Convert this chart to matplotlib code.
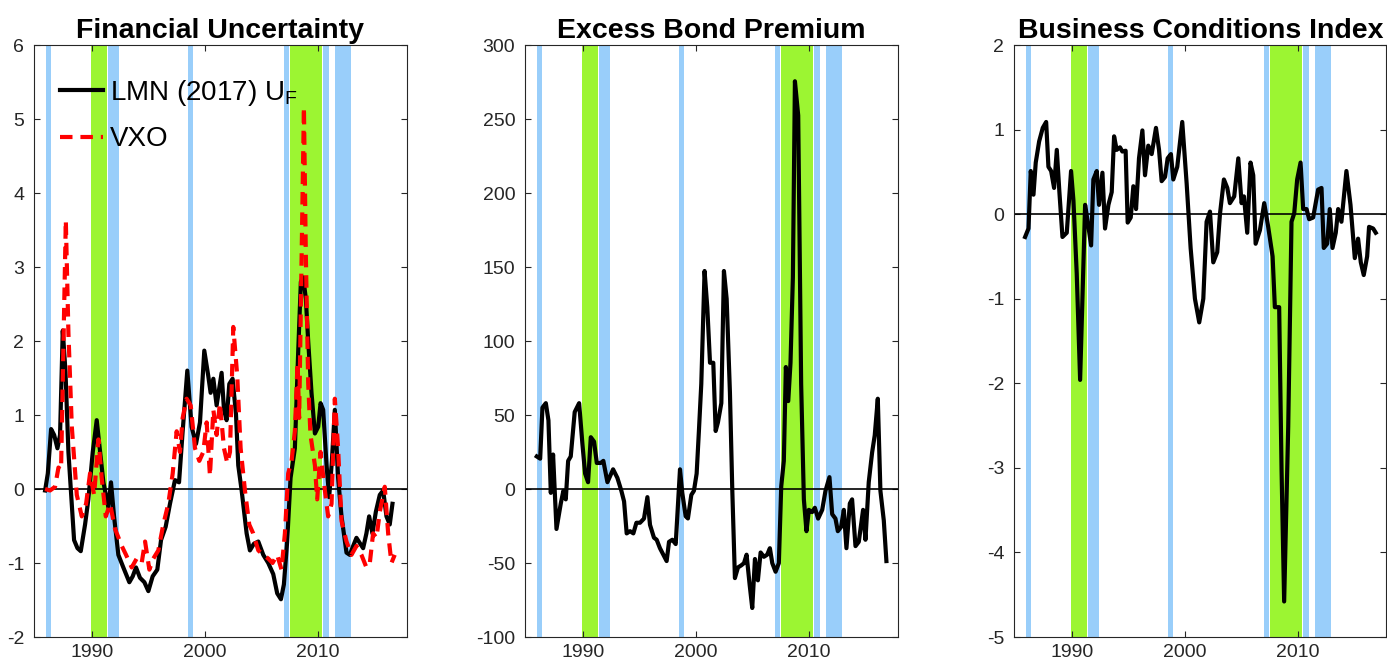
import matplotlib
matplotlib.use("Agg")
import matplotlib.pyplot as plt

plt.rcParams['font.family'] = ['Liberation Sans', 'DejaVu Sans']
plt.rcParams['mathtext.fontset'] = 'custom'
plt.rcParams['mathtext.rm'] = 'Liberation Sans'
plt.rcParams['mathtext.it'] = 'Liberation Sans'
plt.rcParams['axes.unicode_minus'] = False

# ---------------- data ----------------
fu_years = [1985.88, 1986.12, 1986.41, 1986.68, 1986.97, 1987.2, 1987.44, 1987.68, 1987.94, 1988.44,
            1988.74, 1989.03, 1989.41, 1989.7, 1990.09, 1990.44, 1990.74, 1991.03, 1991.47, 1991.7,
            1991.97, 1992.35, 1992.79, 1993.32, 1993.62, 1993.91, 1994.26, 1994.65, 1995.0, 1995.38,
            1995.79, 1996.12, 1996.53, 1996.91, 1997.35, 1997.71, 1998.03, 1998.44, 1998.82, 1999.21,
            1999.56, 1999.94, 2000.29, 2000.5, 2000.74, 2001.03, 2001.47, 2001.68, 2001.91, 2002.15,
            2002.44, 2002.74, 2002.94, 2003.24, 2003.68, 2003.97, 2004.32, 2004.71, 2005.15, 2005.59,
            2006.03, 2006.38, 2006.71, 2006.97, 2007.26, 2007.56, 2007.94, 2008.24, 2008.47, 2008.68,
            2008.91, 2009.12, 2009.41, 2009.71, 2010.0, 2010.21, 2010.44, 2010.74, 2010.97, 2011.21,
            2011.47, 2011.76, 2012.06, 2012.5, 2012.79, 2013.09, 2013.38, 2013.97, 2014.26, 2014.5,
            2014.79, 2015.09, 2015.44, 2015.74, 2016.03, 2016.32, 2016.56]
lmn_uf = [-0.02, 0.21, 0.81, 0.73, 0.55, 0.73, 2.14, 1.59, 0.5, -0.69,
          -0.80, -0.84, -0.48, -0.14, 0.50, 0.93, 0.50, 0.09, -0.25, 0.09,
          -0.37, -0.89, -1.06, -1.26, -1.18, -1.06, -1.2, -1.26, -1.38, -1.18,
          -1.09, -0.69, -0.51, -0.20, 0.12, 0.09, 0.78, 1.60, 0.84, 0.61,
          0.90, 1.87, 1.53, 1.30, 1.49, 1.13, 1.57, 1.07, 0.93, 1.42,
          1.49, 1.01, 0.32, -0.02, -0.6, -0.83, -0.74, -0.71, -0.89, -1.0,
          -1.15, -1.41, -1.49, -1.29, -0.71, 0.15, 0.55, 1.88, 2.80, 2.86,
          2.57, 1.99, 1.30, 0.75, 0.84, 1.16, 1.07, 0.32, -0.11, 0.38,
          1.07, 0.15, -0.37, -0.86, -0.89, -0.77, -0.66, -0.8, -0.6, -0.37,
          -0.6, -0.31, -0.08, -0.02, -0.37, -0.48, -0.2]

vxo_years = [1985.88, 1986.32, 1986.76, 1987.06, 1987.29, 1987.71, 1987.94, 1988.24, 1988.68, 1989.12,
             1989.5, 1989.85, 1990.21, 1990.59, 1990.88, 1991.24, 1991.62, 1992.06, 1992.65, 1993.03,
             1993.53, 1993.97, 1994.41, 1994.71, 1995.09, 1995.44, 1995.88, 1996.32, 1996.76, 1997.15,
             1997.5, 1997.79, 1998.03, 1998.38, 1998.74, 1999.12, 1999.5, 1999.85, 2000.15, 2000.44,
             2000.74, 2001.03, 2001.32, 2001.68, 2001.97, 2002.21, 2002.5, 2002.85, 2003.15, 2003.53,
             2003.91, 2004.26, 2004.71, 2005.15, 2005.59, 2005.97, 2006.38, 2006.76, 2007.06, 2007.35,
             2007.65, 2007.94, 2008.18, 2008.32, 2008.56, 2008.74, 2008.91, 2009.12, 2009.32, 2009.71,
             2009.91, 2010.21, 2010.5, 2010.88, 2011.18, 2011.47, 2011.76, 2012.06, 2012.5, 2012.94,
             2013.38, 2013.82, 2014.26, 2014.56, 2014.85, 2015.15, 2015.44, 2015.88, 2016.18, 2016.47,
             2016.76]
vxo = [0.0, -0.02, 0.03, 0.29, 0.26, 3.63, 2.11, 0.84, -0.08, -0.37,
       -0.2, 0.21, -0.08, 0.67, 0.15, -0.37, -0.2, -0.54, -0.77, -0.89,
       -1.06, -0.94, -1.0, -0.71, -1.09, -0.94, -0.83, -0.48, -0.2, 0.21,
       0.78, 0.5, 0.96, 1.22, 1.13, 0.55, 0.38, 0.5, 0.9, 0.18,
       1.07, 0.73, 1.16, 0.55, 0.35, 0.5, 2.19, 1.53, 0.55, -0.02,
       -0.48, -0.6, -0.83, -0.89, -0.94, -1.0, -0.89, -1.09, -0.6, 0.21,
       0.38, 0.78, 1.71, 0.96, 3.38, 5.16, 3.15, 1.42, 0.73, 0.32,
       -0.14, 0.5, 0.09, -0.37, -0.2, 1.22, 0.55, -0.43, -0.71, -0.89,
       -0.77, -0.89, -1.06, -1.0, -0.6, -0.66, -0.31, 0.03, -0.6, -1.0,
       -0.89]

ebp_years = [1985.94, 1986.24, 1986.44, 1986.74, 1986.97, 1987.18, 1987.38, 1987.68, 1988.06, 1988.29,
             1988.5, 1988.71, 1988.94, 1989.29, 1989.68, 1989.97, 1990.21, 1990.47, 1990.71, 1991.0,
             1991.24, 1991.59, 1991.82, 1992.18, 1992.68, 1993.06, 1993.41, 1993.65, 1993.88, 1994.18,
             1994.47, 1994.74, 1995.06, 1995.41, 1995.71, 1995.94, 1996.29, 1996.53, 1996.82, 1997.41,
             1997.62, 1997.91, 1998.21, 1998.59, 1998.79, 1999.09, 1999.29, 1999.59, 1999.82, 2000.06,
             2000.26, 2000.47, 2000.76, 2001.0, 2001.24, 2001.53, 2001.74, 2001.94, 2002.24, 2002.47,
             2002.71, 2003.0, 2003.21, 2003.44, 2003.71, 2004.0, 2004.24, 2004.47, 2004.74, 2004.97,
             2005.21, 2005.47, 2005.71, 2006.0, 2006.29, 2006.53, 2006.74, 2007.03, 2007.32, 2007.53,
             2007.76, 2007.94, 2008.15, 2008.35, 2008.56, 2008.74, 2009.03, 2009.29, 2009.53, 2009.76,
             2009.97, 2010.26, 2010.5, 2010.79, 2011.15, 2011.44, 2011.79, 2012.03, 2012.32, 2012.53,
             2012.82, 2013.06, 2013.29, 2013.59, 2013.79, 2014.09, 2014.38, 2014.76, 2014.97, 2015.26,
             2015.56, 2015.79, 2016.06, 2016.29, 2016.59, 2016.82]
ebp = [22, 20.5, 55, 58, 46.4, -2.6, 23.3, -27, -9.8, -1.2,
       -7, 19, 22, 52, 58, 30.5, 10.4, 4.6, 35, 32,
       17.6, 17.6, 19, 4.6, 13.3, 7.5, -1.2, -8.4, -30, -28.5,
       -30, -22.8, -22.8, -20, -5.5, -24.2, -32.9, -34.3, -40, -48.7,
       -35.7, -34.3, -37.2, 13.3, -2.6, -18.4, -19.9, -4, -1.2, 10.4,
       39.2, 71, 147.3, 122.8, 85.3, 85.3, 39.2, 45, 58, 147.3,
       128.5, 65.1, -1.2, -60.2, -53, -51.6, -50.1, -44.4, -64.6, -80.4,
       -47.3, -61.7, -42.9, -45.8, -44.4, -40, -50.1, -55.9, -50.1, 1.7,
       19, 82.4, 59.4, 85.3, 143, 275.5, 252.4, 71, -7, -28.5,
       -14.1, -15.6, -12.7, -20, -14.1, -1.2, 8, -17, -20, -28.5,
       -25.6, -14.1, -40, -9.8, -7, -38.6, -35.7, -14.1, -34.3, 4.6,
       24.8, 36.3, 61, -1.2, -21.3, -48.7]

bci_years = [1985.88, 1986.18, 1986.38, 1986.62, 1986.82, 1987.12, 1987.44, 1987.74, 1987.94, 1988.18,
             1988.44, 1988.68, 1988.91, 1989.18, 1989.56, 1989.94, 1990.15, 1990.44, 1990.74, 1991.18,
             1991.41, 1991.71, 1991.91, 1992.21, 1992.41, 1992.71, 1992.94, 1993.24, 1993.53, 1993.74,
             1993.97, 1994.26, 1994.47, 1994.76, 1994.94, 1995.21, 1995.44, 1995.68, 1995.94, 1996.24,
             1996.47, 1996.76, 1997.06, 1997.44, 1997.71, 1997.94, 1998.24, 1998.47, 1998.76, 1998.97,
             1999.32, 1999.76, 2000.15, 2000.5, 2000.88, 2001.26, 2001.62, 2001.91, 2002.21, 2002.5,
             2002.85, 2003.09, 2003.44, 2003.74, 2003.97, 2004.35, 2004.71, 2005.0, 2005.21, 2005.5,
             2005.79, 2006.03, 2006.24, 2006.62, 2007.0, 2007.35, 2007.74, 2007.94, 2008.32, 2008.53,
             2008.76, 2009.12, 2009.41, 2009.65, 2009.91, 2010.21, 2010.44, 2010.74, 2010.97, 2011.32,
             2011.76, 2012.06, 2012.26, 2012.56, 2012.79, 2013.03, 2013.32, 2013.53, 2013.82, 2014.26,
             2014.62, 2015.0, 2015.29, 2015.53, 2015.79, 2016.09, 2016.26, 2016.62, 2016.85]
bci = [-0.27, -0.17, 0.51, 0.23, 0.61, 0.86, 1.02, 1.09, 0.56, 0.51,
       0.31, 0.76, 0.26, -0.27, -0.22, 0.51, 0.16, -0.70, -1.96, 0.11,
       -0.09, -0.37, 0.41, 0.51, 0.11, 0.49, -0.17, 0.11, 0.26, 0.92,
       0.76, 0.79, 0.74, 0.75, -0.1, -0.04, 0.33, 0.06, 0.66, 0.99,
       0.46, 0.81, 0.71, 1.02, 0.76, 0.39, 0.44, 0.66, 0.71, 0.41,
       0.56, 1.09, 0.36, -0.40, -1.0, -1.28, -1.0, -0.09, 0.03, -0.57,
       -0.45, 0.0, 0.41, 0.31, 0.13, 0.21, 0.66, 0.13, 0.21, -0.22,
       0.61, 0.46, -0.35, -0.19, 0.13, -0.15, -0.50, -1.1, -1.1, -3.02,
       -4.58, -2.51, -0.09, 0.01, 0.41, 0.61, 0.06, 0.06, -0.06, -0.04,
       0.29, 0.31, -0.40, -0.35, 0.06, -0.40, -0.22, 0.06, -0.09, 0.51,
       0.11, -0.52, -0.29, -0.57, -0.72, -0.50, -0.15, -0.17, -0.22]

# shaded episodes (start, end) in years
blue_periods = [(1985.97, 1986.38), (1991.42, 1992.38), (1998.5, 1998.92),
                (2007.0, 2007.41), (2010.44, 2010.92), (2011.5, 2012.92)]
green_periods = [(1989.97, 1991.38), (2007.47, 2010.36)]

titles = ['Financial Uncertainty', 'Excess Bond Premium', 'Business Conditions Index']
ylims = [(-2, 6), (-100, 300), (-5, 2)]
yticks = [list(range(-2, 7)), list(range(-100, 301, 50)), list(range(-5, 3))]
xticks = [1990, 2000, 2010]
xlim = (1984.9, 2017.8)

BLUE = '#99cefa'
GREEN = '#9cf532'

fig = plt.figure(figsize=(13.87, 6.70), dpi=100)
W, H = 1387.0, 670.0
lefts = [34, 525, 1014]
axes = []
for l in lefts:
    ax = fig.add_axes([l / W, 33 / H, 372.5 / W, 592 / H])
    axes.append(ax)

for i, ax in enumerate(axes):
    for (a, b) in blue_periods:
        ax.axvspan(a, b, color=BLUE, lw=0, zorder=0)
    for (a, b) in green_periods:
        ax.axvspan(a, b, color=GREEN, lw=0, zorder=0)
    ax.axhline(0, color='black', lw=1.2, zorder=2)
    ax.set_xlim(*xlim)
    ax.set_ylim(*ylims[i])
    ax.set_xticks(xticks)
    ax.set_yticks(yticks[i])
    ax.tick_params(direction='in', length=4.5, width=0.8, top=True, right=True,
                   labelsize=14, colors='#262626', pad=7)
    ax.tick_params(axis='x', pad=5)
    for s in ax.spines.values():
        s.set_color('#262626')
        s.set_linewidth(0.8)
    ax.set_title(titles[i], fontsize=20.5, fontweight='bold', pad=5)

ax1, ax2, ax3 = axes
ax1.plot(fu_years, lmn_uf, color='black', lw=3.0, zorder=3,
         label=r'LMN (2017) U$_\mathregular{F}$')
ax1.plot(vxo_years, vxo, color='red', lw=3.0, zorder=4, dashes=(3.0, 1.9),
         label='VXO')
leg = ax1.legend(loc='upper left', bbox_to_anchor=(0.07, 0.945), frameon=False,
                 fontsize=20, handlelength=1.55, handletextpad=0.25,
                 labelspacing=0.68, borderpad=0, borderaxespad=0)

ax2.plot(ebp_years, ebp, color='black', lw=3.0, zorder=4)
ax3.plot(bci_years, bci, color='black', lw=3.0, zorder=4)

fig.savefig('out.png', dpi=100)
